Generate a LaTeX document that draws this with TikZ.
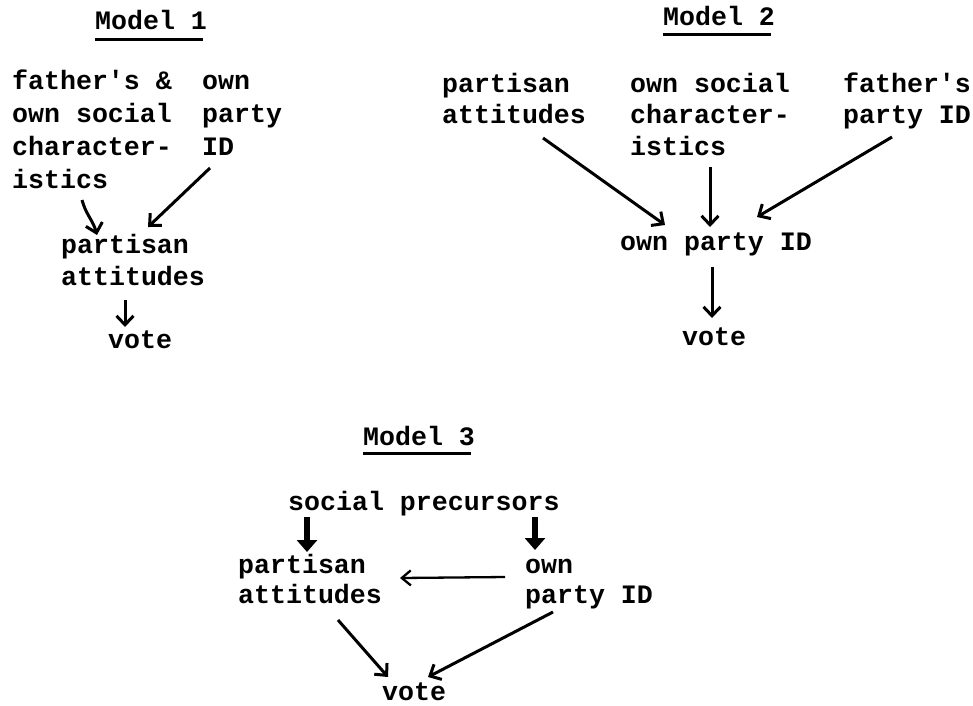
\documentclass[tikz,border=0pt]{standalone}
\usepackage{fontspec}
\newfontfamily\twfont{Liberation Mono}[Ligatures=TeXOff]
\usetikzlibrary{arrows.meta,calc}
\newcommand\tblock[2]{\fontsize{26.6}{#1}\selectfont\begin{tabular}[t]{@{}l@{}}#2\end{tabular}}
\begin{document}
\begin{tikzpicture}[x=1pt,y=-1pt,
  lbl/.style={anchor=base west, inner sep=0pt, font=\twfont\bfseries\fontsize{26.6}{32}\selectfont},
  ttl/.style={lbl},
  uline/.style={line width=3pt},
  arr/.style={line width=3pt, -{Straight Barb[length=9pt,width=17pt]}},
  thin/.style={line width=2.3pt, -{Straight Barb[length=9pt,width=15pt]}},
  fat/.style={line width=5.5pt, -{Triangle[length=12pt,width=20pt]}}
]
\useasboundingbox (0,0) rectangle (973,705);
\fill[white] (0,0) rectangle (973,705);

% ---------- Model 1 ----------
\node[ttl] (t1) at (95,29) {Model 1};
\draw[uline] ($(t1.base west)+(0,10)$) -- ($(t1.base east)+(-4,10)$);
\node[lbl] (m1a) at (12,89) {\tblock{33}{father's \&\\own social\\character-\\istics}};
\node[lbl] (m1b) at (202,89) {\tblock{33}{own\\party\\ID}};
\node[lbl] (m1c) at (61,253) {\tblock{32}{partisan\\attitudes}};
\node[lbl] (m1d) at (108,348) {vote};
\draw[arr] ($(m1a.base west)+(70,111)$) to[out=-75,in=105] ($(m1c.base west)+(36,-18)$);
\draw[arr] ($(m1b.base west)+(8,79)$) -- ($(m1c.base west)+(87,-26)$);
\draw[arr] ($(m1c.base west)+(64,47)$) -- ($(m1d.base west)+(17,-21)$);

% ---------- Model 2 ----------
\node[ttl] (t2) at (663,25) {Model 2};
\draw[uline] ($(t2.base west)+(0,9)$) -- ($(t2.base east)+(-4,9)$);
\node[lbl] (m2a) at (442,92) {\tblock{31.5}{partisan\\attitudes}};
\node[lbl] (m2b) at (630,92) {\tblock{31.5}{own social\\character-\\istics}};
\node[lbl] (m2c) at (843,92) {\tblock{31.5}{father's\\party ID}};
\node[lbl] (m2d) at (620,250) {own party ID};
\node[lbl] (m2e) at (682,345) {vote};
\draw[arr] ($(m2a.base west)+(101,46)$) -- ($(m2d.base west)+(45,-25)$);
\draw[arr] ($(m2b.base west)+(80,75)$) -- ($(m2d.base west)+(90,-23)$);
\draw[arr] ($(m2c.base west)+(49,45)$) -- ($(m2d.base west)+(137,-33)$);
\draw[arr] ($(m2d.base west)+(92,17)$) -- ($(m2e.base west)+(30,-27)$);

% ---------- Model 3 ----------
\node[ttl] (t3) at (363,445) {Model 3};
\draw[uline] ($(t3.base west)+(0,8)$) -- ($(t3.base east)+(-4,8)$);
\node[lbl] (m3a) at (288,510) {social precursors};
\node[lbl] (m3b) at (238,573) {\tblock{30}{partisan\\attitudes}};
\node[lbl] (m3c) at (525,573) {\tblock{30}{own\\party ID}};
\node[lbl] (m3d) at (382,700) {vote};
\draw[fat] ($(m3a.base west)+(19,7)$) -- ($(m3b.base west)+(69,-21)$);
\draw[fat] ($(m3a.base west)+(247,7)$) -- ($(m3c.base west)+(10,-23)$);
\draw[thin] ($(m3c.base west)+(-20,4)$) -- ($(m3b.base west)+(162,5)$);
\draw[arr] ($(m3b.base west)+(100,47)$) -- ($(m3d.base west)+(6,-23)$);
\draw[arr] ($(m3c.base west)+(28,39)$) -- ($(m3d.base west)+(46,-23)$);
\end{tikzpicture}
\end{document}
